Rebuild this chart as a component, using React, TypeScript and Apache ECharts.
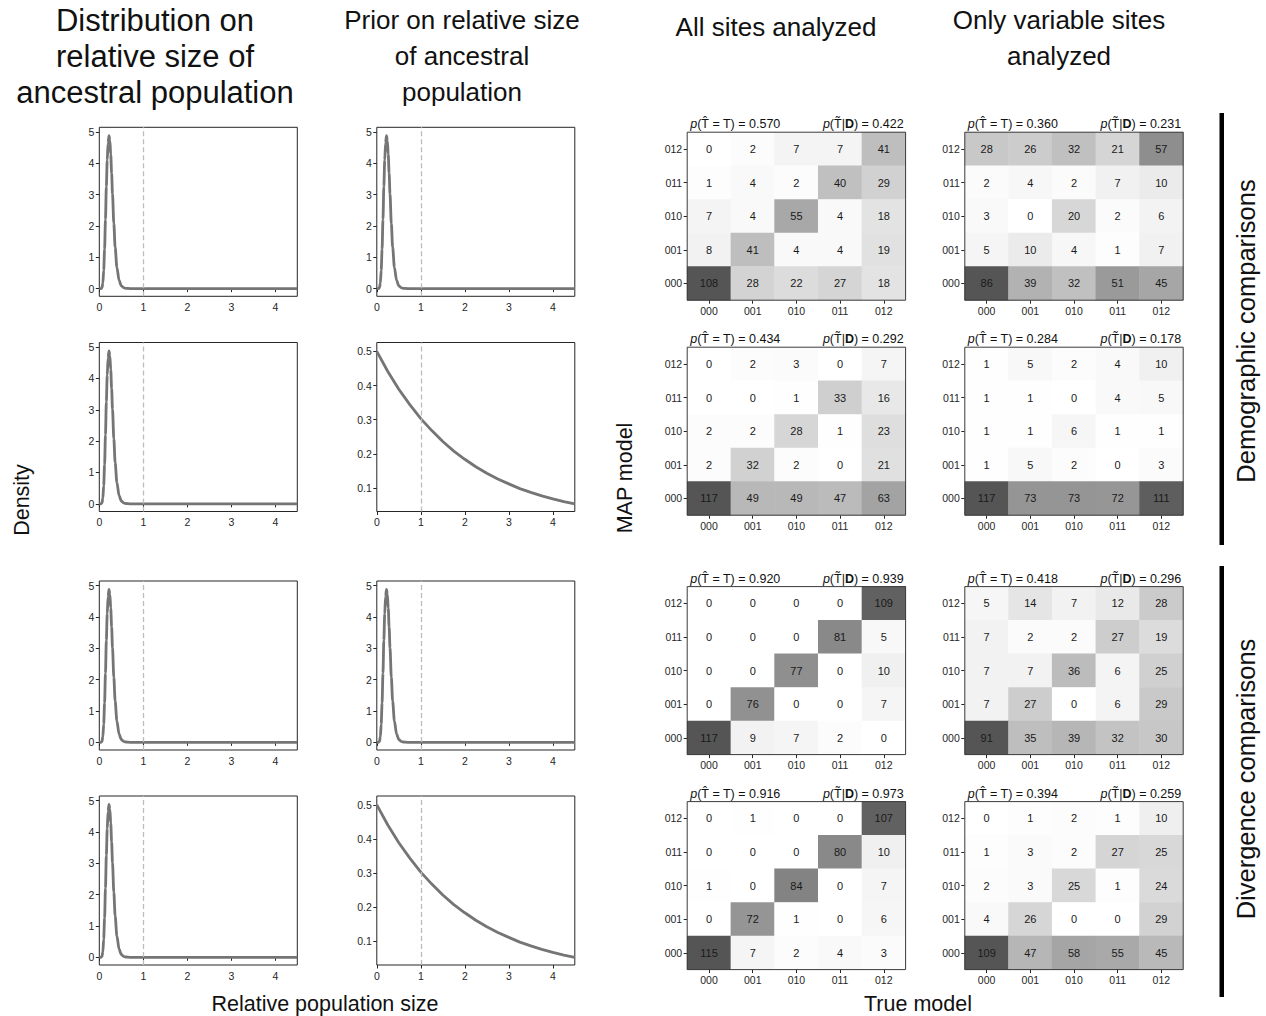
import React, { useEffect, useRef } from "react";
import * as echarts from "echarts";

// ---------- data ----------
const modelLabels = ["000", "001", "010", "011", "012"];
const xTickValues = [0, 1, 2, 3, 4];
const gammaYTicks = [0, 1, 2, 3, 4, 5];
const expYTicks = [0.1, 0.2, 0.3, 0.4, 0.5];

// distribution on relative size (peaked)
const peakedCurve: [number, number][] = [
  [0, 0], [0.04, 0], [0.06, 0.03], [0.08, 0.17], [0.1, 0.58], [0.12, 1.25],
  [0.14, 2.2], [0.16, 3.25], [0.18, 4.1], [0.2, 4.65], [0.22, 4.88],
  [0.24, 4.72], [0.26, 4.28], [0.28, 3.68], [0.3, 3.02], [0.33, 2.08],
  [0.36, 1.32], [0.4, 0.68], [0.45, 0.26], [0.5, 0.09], [0.55, 0.03],
  [0.6, 0.01], [0.7, 0.0], [1, 0], [2, 0], [3, 0], [4, 0], [4.5, 0],
];
// exponential prior
const expCurve: [number, number][] = [
  [0, 0.5], [0.25, 0.441], [0.5, 0.389], [0.75, 0.344], [1, 0.303],
  [1.25, 0.268], [1.5, 0.236], [1.75, 0.208], [2, 0.184], [2.25, 0.162],
  [2.5, 0.143], [2.75, 0.126], [3, 0.112], [3.25, 0.098], [3.5, 0.087],
  [3.75, 0.077], [4, 0.068], [4.25, 0.06], [4.5, 0.053],
];

// heatmap matrices, rows listed top to bottom (012, 011, 010, 001, 000), columns 000..012
const allDemo1 = [
  [0, 2, 7, 7, 41], [1, 4, 2, 40, 29], [7, 4, 55, 4, 18], [8, 41, 4, 4, 19], [108, 28, 22, 27, 18],
];
const varDemo1 = [
  [28, 26, 32, 21, 57], [2, 4, 2, 7, 10], [3, 0, 20, 2, 6], [5, 10, 4, 1, 7], [86, 39, 32, 51, 45],
];
const allDemo2 = [
  [0, 2, 3, 0, 7], [0, 0, 1, 33, 16], [2, 2, 28, 1, 23], [2, 32, 2, 0, 21], [117, 49, 49, 47, 63],
];
const varDemo2 = [
  [1, 5, 2, 4, 10], [1, 1, 0, 4, 5], [1, 1, 6, 1, 1], [1, 5, 2, 0, 3], [117, 73, 73, 72, 111],
];
const allDiv1 = [
  [0, 0, 0, 0, 109], [0, 0, 0, 81, 5], [0, 0, 77, 0, 10], [0, 76, 0, 0, 7], [117, 9, 7, 2, 0],
];
const varDiv1 = [
  [5, 14, 7, 12, 28], [7, 2, 2, 27, 19], [7, 7, 36, 6, 25], [7, 27, 0, 6, 29], [91, 35, 39, 32, 30],
];
const allDiv2 = [
  [0, 1, 0, 0, 107], [0, 0, 0, 80, 10], [1, 0, 84, 0, 7], [0, 72, 1, 0, 6], [115, 7, 2, 4, 3],
];
const varDiv2 = [
  [0, 1, 2, 1, 10], [1, 3, 2, 27, 25], [2, 3, 25, 1, 24], [4, 26, 0, 0, 29], [109, 47, 58, 55, 45],
];
const matrices = [allDemo1, varDemo1, allDemo2, varDemo2, allDiv1, varDiv1, allDiv2, varDiv2];
const accuracyValues = ["0.570", "0.360", "0.434", "0.284", "0.920", "0.418", "0.916", "0.394"];
const posteriorValues = ["0.422", "0.231", "0.292", "0.178", "0.939", "0.296", "0.973", "0.259"];

// which curve each left-hand panel shows: [row][col]
const panelCurves = [
  ["peaked", "peaked"],
  ["peaked", "exp"],
  ["peaked", "peaked"],
  ["peaked", "exp"],
];

// ---------- layout ----------
const FONT = "'Liberation Sans', Arial, sans-serif";
const lineLeft = [99.3, 376.8];
const lineWidth = 198;
const lineTop = [127.3, 342.5, 581, 796];
const lineHeight = 169;
const heatLeft = [687.2, 964.8];
const heatWidth = 218.4;
const heatTop = [132.2, 347.2, 586.6, 801.6];
const heatHeight = 168;
const TICK_COLOR = "#262626";
const TICK_FONT = 10.5;
const SUB_FONT = 12.5;

function buildOption() {
  const grid: any[] = [];
  const xAxis: any[] = [];
  const yAxis: any[] = [];
  const series: any[] = [];
  const visualMap: any[] = [];
  const graphic: any[] = [];

  // line panels
  for (let r = 0; r < 4; r++) {
    for (let c = 0; c < 2; c++) {
      const gi = grid.length;
      const kind = panelCurves[r][c];
      grid.push({
        left: lineLeft[c], top: lineTop[r], width: lineWidth, height: lineHeight,
        show: true, borderColor: TICK_COLOR, borderWidth: 1, backgroundColor: "transparent",
      });
      xAxis.push({
        gridIndex: gi, type: "value", min: 0, max: 4.5,
        axisLine: { show: false },
        axisTick: { show: true, inside: false, length: 3.5, customValues: xTickValues, lineStyle: { color: TICK_COLOR } },
        axisLabel: { customValues: xTickValues, fontSize: TICK_FONT, color: TICK_COLOR, margin: 5, fontFamily: FONT },
        splitLine: { show: false },
      });
      const isExp = kind === "exp";
      yAxis.push({
        gridIndex: gi, type: "value",
        min: isExp ? 0.031 : -0.245, max: isExp ? 0.526 : 5.145,
        axisLine: { show: false },
        axisTick: { show: true, inside: false, length: 3.5, customValues: isExp ? expYTicks : gammaYTicks, lineStyle: { color: TICK_COLOR } },
        axisLabel: {
          customValues: isExp ? expYTicks : gammaYTicks, fontSize: TICK_FONT, color: TICK_COLOR, margin: 5, fontFamily: FONT,
          formatter: (v: number) => (isExp ? v.toFixed(1) : String(Math.round(v))),
        },
        splitLine: { show: false },
      });
      series.push({
        type: "line", xAxisIndex: gi, yAxisIndex: gi,
        data: isExp ? expCurve : peakedCurve,
        showSymbol: false,
        smooth: isExp ? false : 0.3,
        smoothMonotone: isExp ? undefined : "x",
        clip: true,
        lineStyle: { color: "#757575", width: 2.8 },
        silent: true,
        markLine: {
          silent: true, symbol: "none", label: { show: false },
          lineStyle: { type: [5, 3], color: "#bdbdbd", width: 1.3 },
          data: [{ xAxis: 1 }],
        },
      });
    }
  }

  // heatmap panels
  for (let r = 0; r < 4; r++) {
    for (let c = 0; c < 2; c++) {
      const k = r * 2 + c;
      const gi = grid.length;
      const m = matrices[k];
      grid.push({ left: heatLeft[c], top: heatTop[r], width: heatWidth, height: heatHeight });
      xAxis.push({
        gridIndex: gi, type: "category", data: modelLabels,
        axisLine: { show: false },
        axisTick: { show: true, alignWithLabel: true, inside: false, length: 3.5, lineStyle: { color: TICK_COLOR } },
        axisLabel: { fontSize: TICK_FONT, color: TICK_COLOR, margin: 5, fontFamily: FONT },
        splitLine: { show: false },
      });
      yAxis.push({
        gridIndex: gi, type: "category", data: modelLabels,
        axisLine: { show: false },
        axisTick: { show: true, alignWithLabel: true, inside: false, length: 3.5, lineStyle: { color: TICK_COLOR } },
        axisLabel: { fontSize: TICK_FONT, color: TICK_COLOR, margin: 5, fontFamily: FONT },
        splitLine: { show: false },
      });
      const data: number[][] = [];
      let maxV = 0;
      m.forEach((row, ri) => {
        const yi = modelLabels.length - 1 - ri;
        row.forEach((v, xi) => {
          data.push([xi, yi, v]);
          if (v > maxV) maxV = v;
        });
      });
      const si = series.length;
      series.push({
        type: "heatmap", xAxisIndex: gi, yAxisIndex: gi, data,
        silent: true,
        itemStyle: { borderWidth: 0 },
        label: { show: true, fontSize: 11, color: "#1a1a1a", fontFamily: FONT },
        emphasis: { disabled: true },
      });
      visualMap.push({
        type: "continuous", show: false, seriesIndex: si, dimension: 2,
        min: 0, max: maxV, inRange: { color: ["#ffffff", "#555555"] },
      });
      const gx = heatLeft[c];
      const gy = heatTop[r];
      graphic.push({
        type: "rect", z: 100, silent: true,
        shape: { x: gx, y: gy, width: heatWidth, height: heatHeight },
        style: { fill: "none", stroke: "#3a3a3a", lineWidth: 1 },
      });
      graphic.push({
        type: "text", z: 100, silent: true, x: gx + 3, y: gy - 1.5,
        style: {
          text: "{i|p}(T\u0302 = T) = " + accuracyValues[k],
          fontSize: SUB_FONT, fontFamily: FONT, fill: "#111", textAlign: "left", textVerticalAlign: "bottom",
          rich: { i: { fontStyle: "italic", fontSize: SUB_FONT, fontFamily: FONT, fill: "#111" } },
        },
      });
      graphic.push({
        type: "text", z: 100, silent: true, x: gx + heatWidth - 2, y: gy - 1.5,
        style: {
          text: "{i|p}(T\u0303|{b|D}) = " + posteriorValues[k],
          fontSize: SUB_FONT, fontFamily: FONT, fill: "#111", textAlign: "right", textVerticalAlign: "bottom",
          rich: {
            i: { fontStyle: "italic", fontSize: SUB_FONT, fontFamily: FONT, fill: "#111" },
            b: { fontWeight: "bold", fontSize: SUB_FONT, fontFamily: FONT, fill: "#111" },
          },
        },
      });
    }
  }

  const titleStyle = (text: string, x: number, y: number, size = 26) => ({
    type: "text", silent: true, x, y,
    style: {
      text, fontSize: size, lineHeight: 36, fontFamily: FONT, fill: "#111",
      textAlign: "center", textVerticalAlign: "top",
    },
  });
  graphic.push(titleStyle("Distribution on\nrelative size of\nancestral population", 155, 2, 31));
  graphic.push(titleStyle("Prior on relative size\nof ancestral\npopulation", 462, 2));
  graphic.push(titleStyle("All sites analyzed", 776, 9));
  graphic.push(titleStyle("Only variable sites\nanalyzed", 1059, 2));

  const axisText = (text: string, x: number, y: number, rotate: boolean, size = 21.5) => ({
    type: "text", silent: true, x, y, rotation: rotate ? Math.PI / 2 : 0,
    style: {
      text, fontSize: size, fontFamily: FONT, fill: "#111",
      textAlign: "center", textVerticalAlign: "middle",
    },
  });
  graphic.push(axisText("Relative population size", 325, 1004, false));
  graphic.push(axisText("True model", 918, 1004, false));
  graphic.push(axisText("Density", 22, 500, true));
  graphic.push(axisText("MAP model", 625, 478, true));
  graphic.push(axisText("Demographic comparisons", 1246, 331, true, 25.5));
  graphic.push(axisText("Divergence comparisons", 1246, 779, true, 25.5));

  graphic.push({ type: "rect", silent: true, shape: { x: 1219.5, y: 113, width: 4.5, height: 432 }, style: { fill: "#000" } });
  graphic.push({ type: "rect", silent: true, shape: { x: 1219.5, y: 566, width: 4.5, height: 431 }, style: { fill: "#000" } });

  return {
    animation: false,
    backgroundColor: "#ffffff",
    textStyle: { fontFamily: FONT },
    grid, xAxis, yAxis, series, visualMap, graphic,
  };
}

export default function App() {
  const ref = useRef<HTMLDivElement>(null);
  useEffect(() => {
    if (!ref.current) return;
    const chart = echarts.init(ref.current, undefined, { renderer: "svg" });
    chart.setOption(buildOption() as any);
    return () => chart.dispose();
  }, []);
  return (
    <div
      ref={ref}
      style={{ position: "absolute", left: 0, top: 0, width: 1266, height: 1016, background: "#fff" }}
    />
  );
}
